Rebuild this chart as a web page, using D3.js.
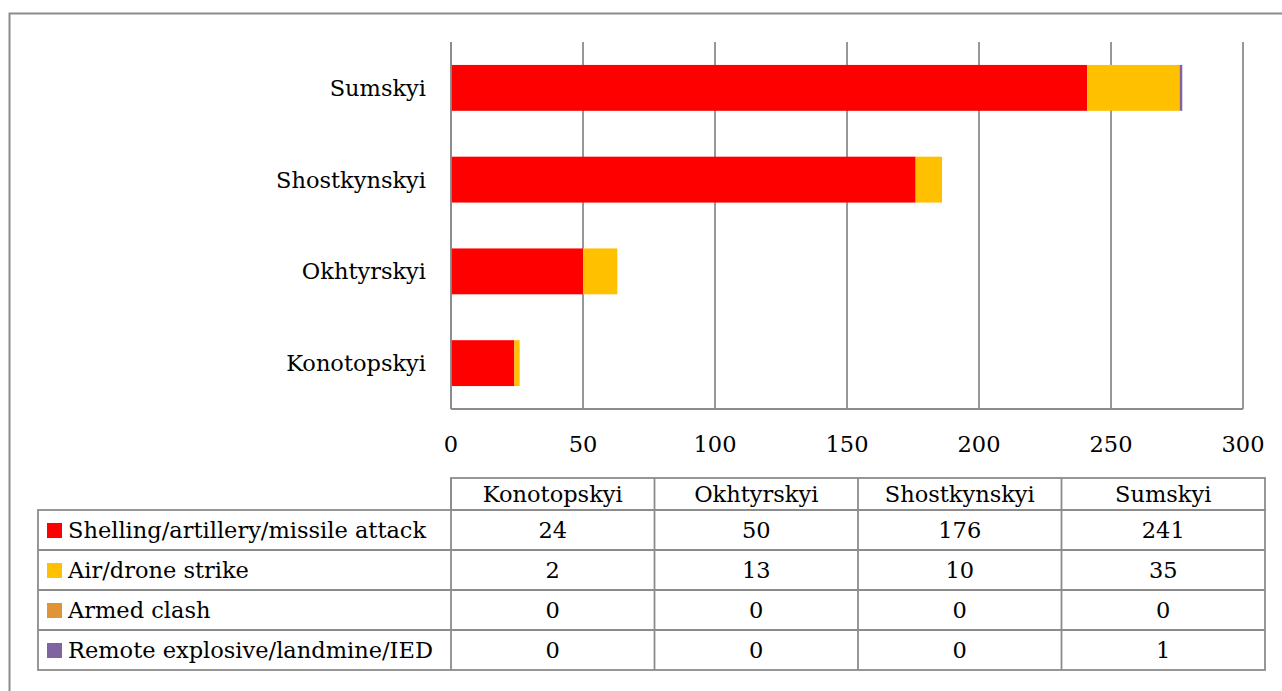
<!DOCTYPE html>
<html><head><meta charset="utf-8">
<script src="https://cdn.jsdelivr.net/npm/d3@7"></script>
<style>body{margin:0;background:#fff}svg{display:block}text{font-family:"DejaVu Serif",serif;fill:#000}</style>
</head><body><svg id="c" width="1282" height="691"></svg>
<script>
const categories = ["Konotopskyi","Okhtyrskyi","Shostkynskyi","Sumskyi"];
const seriesNames = ["Shelling/artillery/missile attack","Air/drone strike","Armed clash","Remote explosive/landmine/IED"];
const shelling = [24,50,176,241];
const airDrone = [2,13,10,35];
const armedClash = [0,0,0,0];
const remoteExplosive = [0,0,0,1];
const xTicks = [0,50,100,150,200,250,300];
const colors = ["#FF0000","#FFC000","#DE9437","#8064A2"];

const seriesValues = [shelling, airDrone, armedClash, remoteExplosive];
const rows = categories.map((c,i)=>{const o={cat:c}; seriesNames.forEach((s,j)=>o[s]=seriesValues[j][i]); return o;});
const stack = d3.stack().keys(seriesNames)(rows);

const svg = d3.select("#c");
const FS = 22.5;
const grid = "#8c8c8c";

// outer border
svg.append("rect").attr("x",9.5).attr("y",13.5).attr("width",1300).attr("height",700)
  .attr("fill","none").attr("stroke","#8c8c8c").attr("stroke-width",2);

const x = d3.scaleLinear().domain([0,300]).range([451,1243]);
const y = d3.scaleBand().domain(categories.slice().reverse()).range([42,409]).paddingInner(0.5).paddingOuter(0.25);

// gridlines
svg.append("g").selectAll("line").data(xTicks).join("line")
  .attr("x1",d=>x(d)).attr("x2",d=>x(d)).attr("y1",42).attr("y2",409)
  .attr("stroke",grid).attr("stroke-width",1.8);
svg.append("line").attr("x1",x(0)).attr("x2",x(300)).attr("y1",409).attr("y2",409).attr("stroke",grid).attr("stroke-width",1.8);

// bars
svg.append("g").selectAll("g").data(stack).join("g").attr("fill",(d,i)=>colors[i])
  .selectAll("rect").data(d=>d).join("rect")
  .attr("x",d=>x(d[0])).attr("width",d=>x(d[1])-x(d[0]))
  .attr("y",d=>y(d.data.cat)).attr("height",y.bandwidth());

// axis line on top
svg.append("line").attr("x1",x(0)).attr("x2",x(0)).attr("y1",42).attr("y2",409).attr("stroke",grid).attr("stroke-width",1.8);

// category labels
svg.append("g").selectAll("text").data(categories).join("text")
  .attr("x",426).attr("y",d=>y(d)+y.bandwidth()/2).attr("dy","0.35em")
  .attr("text-anchor","end").attr("font-size",FS).text(d=>d);

// tick labels
svg.append("g").selectAll("text").data(xTicks).join("text")
  .attr("x",d=>x(d)).attr("y",444).attr("dy","0.35em")
  .attr("text-anchor","middle").attr("font-size",FS).text(d=>d);

// data table
const tc = d3.scaleBand().domain(categories).range([451,1265]);
const rowY = d3.scaleBand().domain(seriesNames).range([510,670]);
const tg = svg.append("g").attr("stroke",grid).attr("stroke-width",1.8).attr("fill","none");
tg.append("rect").attr("x",451).attr("y",478).attr("width",1265-451).attr("height",32);
tg.append("rect").attr("x",38).attr("y",510).attr("width",1265-38).attr("height",160);
tg.selectAll("line.r").data(seriesNames.slice(1)).join("line").attr("class","r")
  .attr("x1",38).attr("x2",1265).attr("y1",d=>rowY(d)).attr("y2",d=>rowY(d));
tg.selectAll("line.c").data(categories).join("line").attr("class","c")
  .attr("x1",d=>tc(d)).attr("x2",d=>tc(d)).attr("y1",478).attr("y2",670);

svg.append("g").selectAll("text").data(categories).join("text")
  .attr("x",d=>tc(d)+tc.bandwidth()/2).attr("y",494).attr("dy","0.35em")
  .attr("text-anchor","middle").attr("font-size",FS).text(d=>d);

const lg = svg.append("g").selectAll("g").data(seriesNames).join("g");
lg.append("rect").attr("x",47).attr("y",d=>rowY(d)+rowY.bandwidth()/2-7).attr("width",15).attr("height",15)
  .attr("fill",(d,i)=>colors[i]);
lg.append("text").attr("x",68).attr("y",d=>rowY(d)+rowY.bandwidth()/2).attr("dy","0.35em")
  .attr("font-size",FS).text(d=>d);

seriesNames.forEach((s,j)=>{
  svg.append("g").selectAll("text").data(categories).join("text")
    .attr("x",d=>tc(d)+tc.bandwidth()/2).attr("y",rowY(s)+rowY.bandwidth()/2).attr("dy","0.35em")
    .attr("text-anchor","middle").attr("font-size",FS).text((d,i)=>seriesValues[j][i]);
});
</script></body></html>
